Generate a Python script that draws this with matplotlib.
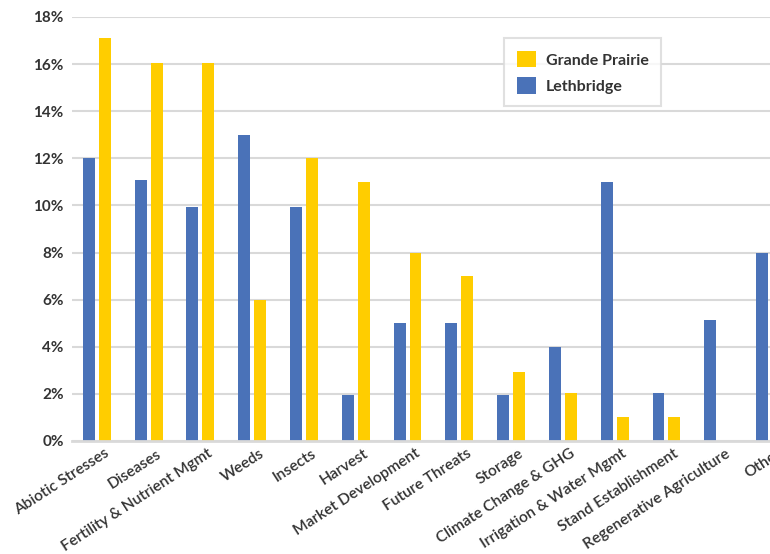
import numpy as np
import matplotlib
matplotlib.use('Agg')
import matplotlib.pyplot as plt
import matplotlib.transforms as mtransforms
from matplotlib.ticker import PercentFormatter

categories = ['Abiotic Stresses', 'Diseases', 'Fertility & Nutrient Mgmt', 'Weeds',
              'Insects', 'Harvest', 'Market Development', 'Future Threats', 'Storage',
              'Climate Change & GHG', 'Irrigation & Water Mgmt', 'Stand Establishment',
              'Regenerative Agriculture', 'Other']
lethbridge = [12.0, 11.1, 9.95, 13.0, 9.95, 1.95, 5.0, 5.0, 1.95, 4.0, 11.0, 2.05, 5.15, 8.0]
grande_prairie = [17.1, 16.05, 16.05, 6.0, 12.0, 11.0, 8.0, 7.0, 2.95, 2.05, 1.0, 1.0, 0, 0]
yticks = np.arange(0, 19, 2)

blue = '#4a72b8'
yellow = '#ffcd00'
grid_col = '#d9d9d9'
text_col = '#333333'

plt.rcParams['font.family'] = ['Lato', 'DejaVu Sans']

fig = plt.figure(figsize=(7.7, 5.54), dpi=100)
ax = fig.add_axes([72 / 770, 1 - 441 / 554, 1 - 72 / 770, 424 / 554])

x = np.arange(len(categories))
w = 0.23
off = 0.154
ax.bar(x - off, lethbridge, w, color=blue, label='Lethbridge', zorder=3)
ax.bar(x + off, grande_prairie, w, color=yellow, label='Grande Prairie', zorder=3)

ax.set_xlim(-0.48, 12.94)
ax.set_ylim(0, 18)
ax.set_yticks(yticks)
ax.yaxis.set_major_formatter(PercentFormatter(decimals=0))
ax.grid(axis='y', color=grid_col, linewidth=1.5, zorder=0)
for s in ['top', 'right', 'left']:
    ax.spines[s].set_visible(False)
ax.spines['bottom'].set_color(grid_col)
ax.spines['bottom'].set_linewidth(2)
ax.spines['bottom'].set_zorder(4)
ax.tick_params(axis='both', length=0, colors=text_col)
ax.tick_params(axis='y', pad=6)
for lab in ax.get_yticklabels():
    lab.set_fontsize(11)
    lab.set_fontweight('bold')

# category labels, upright font turned about 33 degrees
ax.set_xticks(x)
ax.set_xticklabels(categories, rotation=33, ha='right', rotation_mode='anchor',
                   fontsize=11.2, fontweight='semibold', color=text_col)
ax.tick_params(axis='x', pad=4)
shift = mtransforms.ScaledTranslation(7 / 100, 0, fig.dpi_scale_trans)
for lab in ax.get_xticklabels():
    lab.set_transform(lab.get_transform() + shift)

handles, labels = ax.get_legend_handles_labels()
leg = ax.legend(handles[::-1], labels[::-1], loc='upper left',
                bbox_to_anchor=(0.619, 0.95), borderaxespad=0,
                frameon=True, fancybox=False, fontsize=11.5,
                handlelength=1.2, handleheight=1.2, labelspacing=0.6,
                borderpad=0.8, handletextpad=0.6)
leg.get_frame().set_edgecolor(grid_col)
leg.get_frame().set_linewidth(1.5)
for t in leg.get_texts():
    t.set_fontweight('bold')
    t.set_color(text_col)

fig.savefig('out.png', dpi=100)
